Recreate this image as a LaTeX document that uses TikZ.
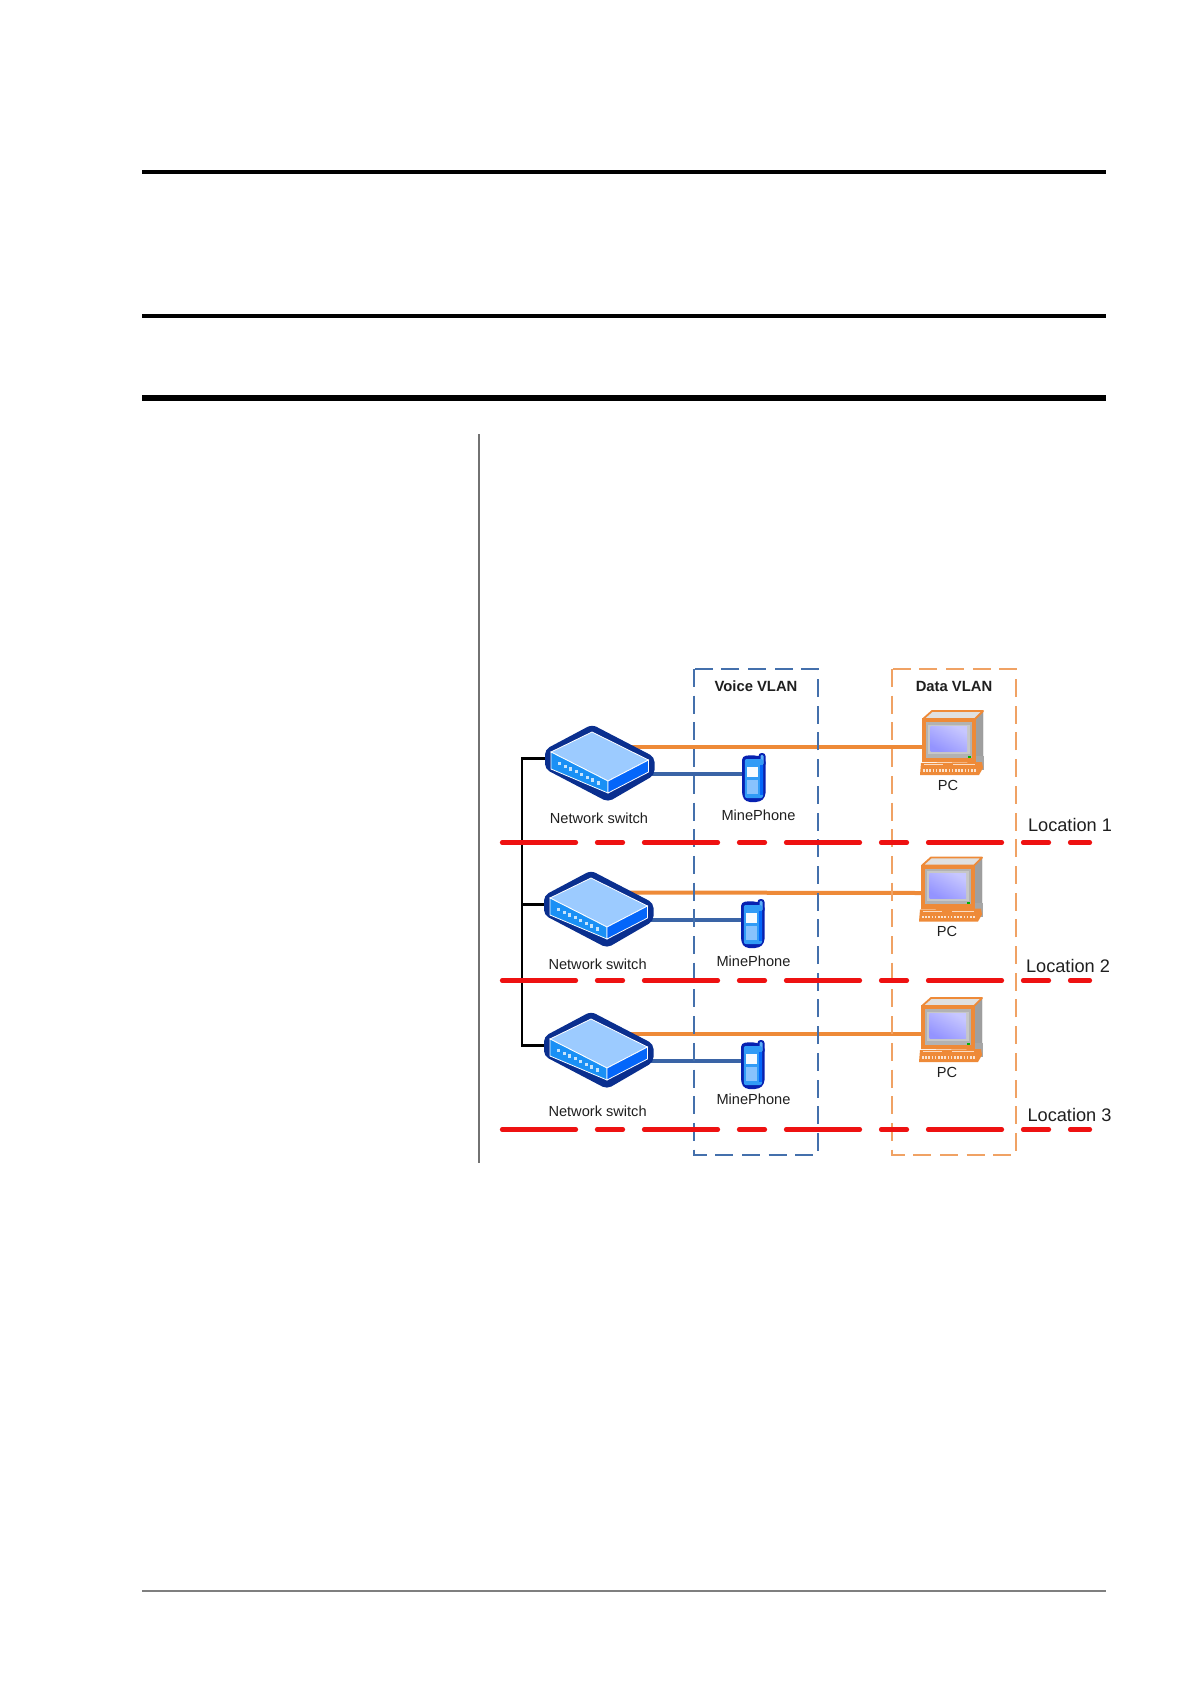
\documentclass[tikz,border=0pt]{standalone}
\usepackage{fontspec}
\setmainfont{Liberation Sans}
\usetikzlibrary{backgrounds}
\definecolor{navy}{HTML}{0A2F8F}
\definecolor{sface}{HTML}{9CCBFF}
\definecolor{lface}{HTML}{1A90F5}
\definecolor{rface}{HTML}{0466FA}
\definecolor{vblue}{HTML}{3A64A6}
\definecolor{dorange}{HTML}{EE8A38}
\definecolor{boxorange}{HTML}{F0A264}
\definecolor{boxblue}{HTML}{4470AC}
\definecolor{redline}{HTML}{EE1111}
\definecolor{rulegray}{HTML}{7F7F7F}
\tikzset{
  x=1pt,y=-1pt,
  heavy/.style={draw=black,line width=4.5pt},
  heavier/.style={draw=black,line width=6.5pt},
  thinrule/.style={draw=rulegray,line width=2pt},
  vrule/.style={draw=rulegray!90!black,line width=2pt},
  boxline/.style={line width=2.3pt,dash pattern=on 18pt off 8.7pt},
  redsep/.style={draw=redline,line width=4.2pt,line cap=round,dash pattern=on 74pt off 21pt on 26pt off 21pt},
  datalink/.style={draw=dorange,line width=4pt},
  voicelink/.style={draw=vblue,line width=4pt},
  trunk/.style={draw=black,line width=2.5pt},
  lab/.style={anchor=base,inner sep=0pt,text=black!88},
  swlab/.style={lab,font=\fontsize{14.6}{18}\selectfont},
  phlab/.style={lab,font=\fontsize{14.6}{18}\selectfont},
  loclab/.style={lab,font=\fontsize{18.2}{20}\selectfont},
  vlanlab/.style={lab,font=\fontsize{14.8}{18}\selectfont\bfseries},
  switchicon/.pic={
    \fill[navy,rounded corners=5pt]
      (0,-2.5)--(62.5,30)--(62.5,48)--(16,75)--(-47,42)--(-47,22.5)--cycle;
    \fill[sface,draw=white,line width=.8pt] (0,5)--(56.5,33)--(16,54)--(-41,25)--cycle;
    \fill[lface,draw=white,line width=.8pt] (-41,25)--(16,54)--(16,66)--(-41,42)--cycle;
    \fill[rface,draw=white,line width=.8pt] (16,54)--(56.5,33)--(56.5,45)--(16,66)--cycle;
    \foreach \t in {0,1,...,7}
      \fill[white!75!lface] ({-32.5+\t*5.57-1.5},{36.5+\t*2.79-1.8}) rectangle ++(3,3.4);
    \coordinate (-data) at (35,19.5);
    \coordinate (-voice) at (55,46.5);
    \coordinate (-port) at (-46,31.5);
  },
  phoneicon/.pic={
    \fill[navy!70!blue,rounded corners=3pt] (16.5,0) rectangle (23.5,14);
    \fill[navy!70!blue,rounded corners=4pt] (0,3)--(12,2)--(23.5,5)--(23.5,44)--(18,49)--(4,49)--(0,43)--cycle;
    \fill[lface!70!white,rounded corners=1.5pt] (18.5,1.5) rectangle (21.5,12);
    \fill[lface!90!white,rounded corners=2pt] (2.8,6) rectangle (21,45);
    \fill[rface] (18,12) rectangle (21,42);
    \fill[white!92!sface] (5,14) rectangle (16,24);
    \fill[sface!85!lface] (5,27) rectangle (16,41);
    \coordinate (-link) at (0,20.5);
  },
  pcicon/.pic={
    \fill[gray!75,draw=gray!85] (54,9)--(62,1)--(62,50)--(54,52)--cycle;
    \fill[black!12,draw=dorange,line width=1.8pt,line join=round] (2,9)--(11,1)--(62,1)--(54,9)--cycle;
    \fill[dorange] (1,8) rectangle (55,52);
    \fill[gray!60] (4.5,12) rectangle (51,47.5);
    \fill[black!22] (7,14.5) rectangle (49,44);
    \shade[top color=blue!22!white,bottom color=blue!42!white,shading angle=-30] (9.7,16.7) rectangle (46,41.7);
    \fill[green!70!black] (47,45.5) rectangle (49.5,47.5);
    \fill[gray!70] (55,46) rectangle (63,60);
    \fill[dorange,line join=round] (0,53)--(61,52)--(62,58)--(58,65)--(-1,65)--cycle;
    \draw[white!70!dorange,line width=.7pt] (3,54.5)--(22,54.5) (32,54.5)--(54,54.5);
    \draw[white!75!dorange,line width=2.5pt,dash pattern=on 1.5pt off 1.7pt] (2,60.5)--(56,60.5);
    \coordinate (-link) at (1.7,36.5);
  }
}
\begin{document}
\begin{tikzpicture}
\useasboundingbox (0,0) rectangle (1191,1684);
% page rules
\draw[heavy] (142,172) -- (1105.5,172);
\draw[heavy] (142,316) -- (1105.5,316);
\draw[heavier] (142,398) -- (1105.5,398);
\draw[vrule] (479,434) -- (479,1163);
\draw[thinrule] (142,1591) -- (1105.5,1591);
% VLAN boxes
\draw[boxblue,boxline] (694,669) rectangle (818,1155);
\draw[boxorange,boxline] (892,669) rectangle (1016,1155);
\node[vlanlab] (voicetitle) at (756,691) {Voice VLAN};
\node[vlanlab] (datatitle) at (954,691) {Data VLAN};
% devices
\pic (sw1) at (592,727) {switchicon};
\pic (sw2) at (591,873) {switchicon};
\pic (sw3) at (591,1014) {switchicon};
\pic (ph1) at (742,753) {phoneicon};
\pic (ph2) at (741,899) {phoneicon};
\pic (ph3) at (741,1040) {phoneicon};
\pic (pc1) at (921,710) {pcicon};
\pic (pc2) at (920,856.5) {pcicon};
\pic (pc3) at (920,997) {pcicon};
% connectors
\begin{scope}[on background layer]
\draw[datalink] (sw1-data) -- (pc1-link);
\draw[datalink] (sw2-data) -- (pc2-link);
\draw[datalink] (sw3-data) -- (pc3-link);
\draw[voicelink] (sw1-voice) -- (ph1-link);
\draw[voicelink] (sw2-voice) -- (ph2-link);
\draw[voicelink] (sw3-voice) -- (ph3-link);
\coordinate (busx) at (522,758.5);
\draw[trunk] (sw1-port) -- (busx) -- (busx |- sw3-port) -- (sw3-port);
\draw[trunk] (sw2-port) -- (busx |- sw2-port);
\end{scope}
% labels
\node[swlab] (n1) at (599,823.7) {Network switch};
\node[swlab] (n2) at (597.6,969.7) {Network switch};
\node[swlab] (n3) at (597.6,1116.7) {Network switch};
\node[phlab] (m1) at (758.5,820.5) {MinePhone};
\node[phlab] (m2) at (753.5,966.5) {MinePhone};
\node[phlab] (m3) at (753.5,1104.5) {MinePhone};
\node[phlab] (p1) at (948,790) {PC};
\node[phlab] (p2) at (947,936) {PC};
\node[phlab] (p3) at (947,1077) {PC};
\node[loclab] (l1) at (1070,831.5) {Location 1};
\node[loclab] (l2) at (1068,972) {Location 2};
\node[loclab] (l3) at (1069.5,1121) {Location 3};
% location separators
\draw[redsep] (502,842.5) -- (1090,842.5);
\draw[redsep] (502,980.5) -- (1090,980.5);
\draw[redsep] (502,1129.5) -- (1090,1129.5);
\end{tikzpicture}
\end{document}
